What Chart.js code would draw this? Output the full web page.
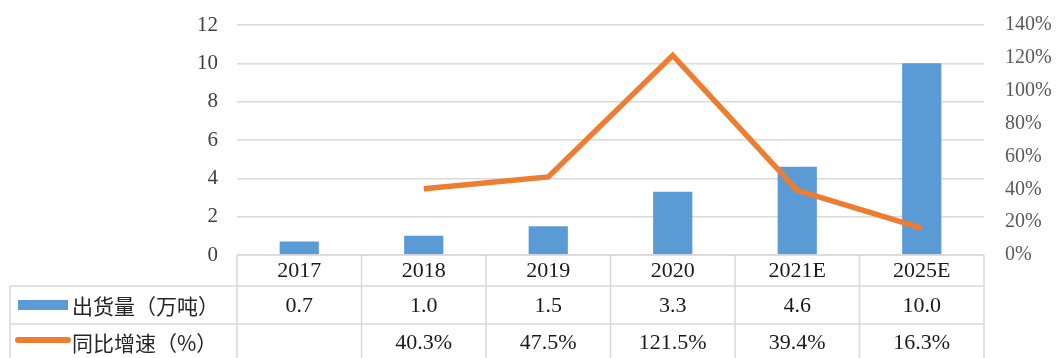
<!DOCTYPE html>
<html>
<head>
<meta charset="utf-8">
<script src="https://cdn.jsdelivr.net/npm/chart.js@4/dist/chart.umd.min.js"></script>
<style>
  html, body { margin: 0; padding: 0; background: #fff; }
  #wrap { width: 1061px; height: 358px; }
</style>
</head>
<body>
<div id="wrap"><canvas id="c" width="1061" height="358"></canvas></div>
<script>
// Years shown along the bottom of the chart and in the table header row
const categories = ['2017', '2018', '2019', '2020', '2021E', '2025E'];
// Shipments, 10k tonnes
const shipments = [0.7, 1.0, 1.5, 3.3, 4.6, 10.0];
// Year-over-year growth (fraction); no value for the first year
const growth = [null, 0.403, 0.475, 1.215, 0.394, 0.163];
// Row labels of the data table
const seriesNames = ['出货量（万吨）', '同比增速（%）'];
// Axis tick settings
const leftTicks = { min: 0, max: 12, step: 2 };
const rightTicks = { min: 0, max: 1.4, step: 0.2 };

const BLUE = '#5B9BD5';
const ORANGE = '#ED7D31';
const GRID = '#d9d9d9';
const SERIF = '"Liberation Serif", "Times New Roman", serif';
const CJK = '"Noto Sans CJK SC", sans-serif';

const fmtShip = v => v.toFixed(1);
const fmtPct = v => (v * 100).toFixed(1) + '%';

// Data table under the plot: year header, a row per series, with legend keys
const dataTable = {
  id: 'dataTable',
  afterDraw(chart, args, opts) {
    const ctx = chart.ctx;
    const x = chart.scales.x;
    const area = chart.chartArea;
    const n = categories.length;
    const half = (x.getPixelForValue(1) - x.getPixelForValue(0)) / 2;
    const left = x.getPixelForValue(0) - half;
    const right = x.getPixelForValue(n - 1) + half;
    const top = area.bottom;
    const rowH = opts.rowHeights;
    const r1 = top + rowH[0];
    const r2 = r1 + rowH[1];
    const bottom = chart.height;
    const legendLeft = opts.legendLeft;

    ctx.save();
    ctx.strokeStyle = GRID;
    ctx.lineWidth = 1.5;
    ctx.beginPath();
    // horizontal lines
    ctx.moveTo(left, top); ctx.lineTo(right, top);
    ctx.moveTo(legendLeft, r1); ctx.lineTo(right, r1);
    ctx.moveTo(legendLeft, r2); ctx.lineTo(right, r2);
    // vertical lines at category boundaries
    for (let i = 0; i <= n; i++) {
      const px = left + i * 2 * half;
      ctx.moveTo(px, top); ctx.lineTo(px, bottom);
    }
    ctx.moveTo(legendLeft, r1); ctx.lineTo(legendLeft, bottom);
    ctx.stroke();

    // cell text
    ctx.fillStyle = '#1a1a1a';
    ctx.textAlign = 'center';
    ctx.textBaseline = 'middle';
    ctx.font = '22px ' + SERIF;
    const c0 = top + rowH[0] / 2 + 1;
    const c1 = r1 + rowH[1] / 2 + 1;
    const c2 = r2 + rowH[2] / 2 + 1;
    categories.forEach((cat, i) => {
      const cx = x.getPixelForValue(i);
      ctx.fillText(cat, cx, c0);
      ctx.fillText(fmtShip(shipments[i]), cx, c1);
      if (growth[i] !== null) ctx.fillText(fmtPct(growth[i]), cx, c2);
    });

    // legend keys
    ctx.fillStyle = BLUE;
    ctx.fillRect(legendLeft + 8, c1 - 6, 50, 10);
    ctx.strokeStyle = ORANGE;
    ctx.lineWidth = 6;
    ctx.lineCap = 'round';
    ctx.beginPath();
    ctx.moveTo(legendLeft + 8, c2 - 3);
    ctx.lineTo(legendLeft + 58, c2 - 3);
    ctx.stroke();

    ctx.fillStyle = '#262626';
    ctx.textAlign = 'left';
    ctx.font = '21px ' + CJK;
    ctx.fillText(seriesNames[0], legendLeft + 62, c1);
    ctx.fillText(seriesNames[1], legendLeft + 62, c2);
    ctx.restore();
  }
};

// Vertical axes: fixed widths, and no extra label padding above the plot
const fitVertical = width => s => {
  s.width = width;
  s.paddingTop = 0;
  s.paddingBottom = 0;
};

new Chart(document.getElementById('c'), {
  data: {
    labels: categories,
    datasets: [
      {
        type: 'line',
        label: seriesNames[1],
        data: growth,
        yAxisID: 'y1',
        borderColor: ORANGE,
        backgroundColor: ORANGE,
        borderWidth: 5.5,
        pointRadius: 0,
        tension: 0,
        order: 0
      },
      {
        type: 'bar',
        label: seriesNames[0],
        data: shipments,
        yAxisID: 'y',
        backgroundColor: BLUE,
        barPercentage: 0.315,
        categoryPercentage: 1,
        order: 1
      }
    ]
  },
  options: {
    responsive: false,
    animation: false,
    devicePixelRatio: 1,
    layout: { padding: { top: 25, left: 0, right: 0, bottom: 0 } },
    plugins: {
      legend: { display: false },
      tooltip: { enabled: false },
      dataTable: { rowHeights: [31, 38, 36], legendLeft: 10 }
    },
    scales: {
      x: {
        offset: true,
        grid: { display: false, drawTicks: false },
        border: { display: false },
        ticks: { display: false },
        afterFit(s) { s.height = 103; }
      },
      y: {
        position: 'left',
        min: leftTicks.min,
        max: leftTicks.max,
        ticks: {
          stepSize: leftTicks.step,
          color: '#404040',
          font: { family: SERIF, size: 21 },
          padding: 19
        },
        grid: { color: GRID, lineWidth: 1.5, drawTicks: false },
        border: { display: false },
        afterFit: fitVertical(237)
      },
      y1: {
        position: 'right',
        min: rightTicks.min,
        max: rightTicks.max,
        ticks: {
          stepSize: rightTicks.step,
          color: '#595959',
          font: { family: SERIF, size: 20 },
          padding: 21,
          callback: v => Math.round(v * 100) + '%'
        },
        grid: { display: false, drawTicks: false },
        border: { display: false },
        afterFit: fitVertical(77)
      }
    }
  },
  plugins: [dataTable]
});
</script>
</body>
</html>
